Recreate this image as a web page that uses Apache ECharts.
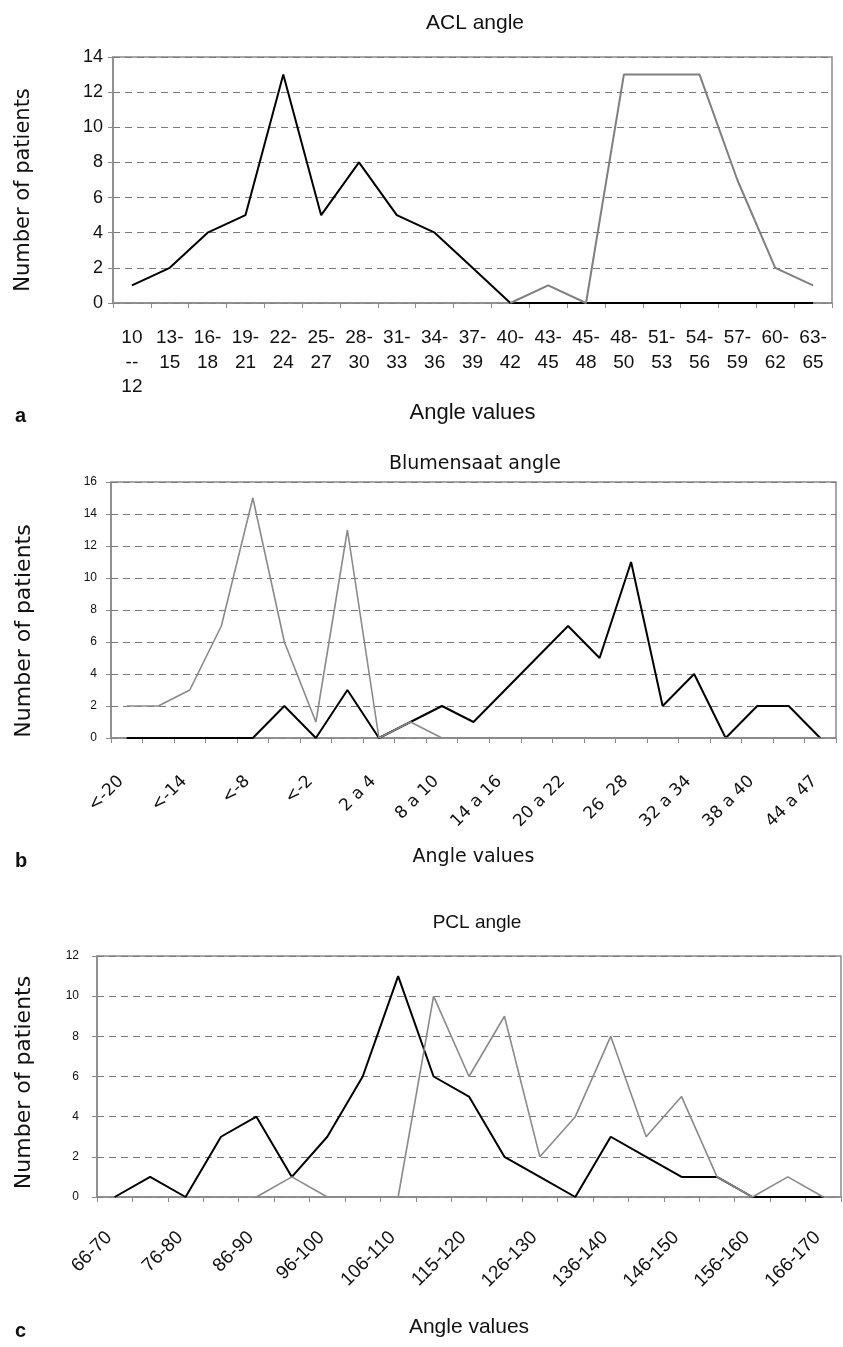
<!DOCTYPE html>
<html>
<head>
<meta charset="utf-8">
<script src="https://cdn.jsdelivr.net/npm/echarts@6/dist/echarts.min.js"></script>
<style>html,body{margin:0;padding:0;background:#fff}#chart{width:843px;height:1347px}</style>
</head>
<body>
<div id="chart"></div>
<script>
// ---- Panel a: ACL angle ----
const catsA = ["10--12","13-15","16-18","19-21","22-24","25-27","28-30","31-33","34-36","37-39","40-42","43-45","45-48","48-50","51-53","54-56","57-59","60-62","63-65"];
const blackA = [1,2,4,5,13,5,8,5,4,2,0,0,0,0,0,0,0,0,0];
const grayA  = [null,null,null,null,null,null,null,null,null,null,0,1,0,13,13,13,7,2,1];

// ---- Panel b: Blumensaat angle ----
const catsB = ["<-20","<-17","<-14","<-11","<-8","<-5","<-2","-1 a 1","2 a 4","5 a 7","8 a 10","11 a 13","14 a 16","17 a 19","20 a 22","23 a 25","26  28","29 a 31","32 a 34","35 a 37","38 a 40","41 a 43","44 a 47"];
const blackB = [0,0,0,0,0,2,0,3,0,1,2,1,3,5,7,5,11,2,4,0,2,2,0];
const grayB  = [2,2,3,7,15,6,1,13,0,1,0,0,0,0,0,0,0,0,0,0,0,0,0];

// ---- Panel c: PCL angle ----
const catsC = ["66-70","71-75","76-80","81-85","86-90","91-95","96-100","101-105","106-110","111-114","115-120","121-125","126-130","131-135","136-140","141-145","146-150","151-155","156-160","161-165","166-170"];
const blackC = [0,1,0,3,4,1,3,6,11,6,5,2,1,0,3,2,1,1,0,0,0];
const grayC  = [null,null,null,null,0,1,0,0,0,10,6,9,2,4,8,3,5,1,0,1,0];

const titles = ["ACL angle","Blumensaat angle","PCL angle"];
const letters = ["a","b","c"];
const yMax = [14,16,12];
const xName = "Angle values";
const yName = "Number of patients";

const ARIAL = "'Liberation Sans', Arial, sans-serif";
const NARROW = "'Liberation Sans Narrow', 'Arial Narrow', 'Liberation Sans', sans-serif";
const WIDE = "'DejaVu Sans', Verdana, sans-serif";
const AX = '#8a8a8a';
const TXT = '#111';

const chart = echarts.init(document.getElementById('chart'), null, {renderer:'canvas'});

const grids = [
  {left:113, top:57, width:719, height:246},
  {left:111, top:482, width:725, height:256},
  {left:97, top:956, width:744, height:241}
];

function xAxisOf(i, cats, labelOpt, gap, nameFont) {
  return {
    type:'category', gridIndex:i, data:cats, boundaryGap:true,
    axisLine:{show:true, lineStyle:{color:AX, width:1.5}},
    axisTick:{show:true, interval:0, length:5, lineStyle:{color:AX, width:1}},
    axisLabel:labelOpt,
    splitLine:{show:false},
    name:xName, nameLocation:'middle', nameGap:gap,
    nameTextStyle:nameFont
  };
}
function yAxisOf(i, max, labelOpt, gap, nameFont) {
  return {
    type:'value', gridIndex:i, min:0, max:max, interval:2,
    axisLine:{show:true, lineStyle:{color:AX, width:1.5}},
    axisTick:{show:true, length:5, lineStyle:{color:AX, width:1}},
    axisLabel:labelOpt,
    splitLine:{show:true, lineStyle:{color:'#7a7a7a', width:1, type:[7,5]}},
    name:yName, nameLocation:'middle', nameRotate:90, nameGap:gap,
    nameTextStyle:nameFont
  };
}
function lineSeries(i, data, color, width, z) {
  return {
    type:'line', xAxisIndex:i, yAxisIndex:i, data:data,
    symbol:'none', smooth:false, connectNulls:false,
    lineStyle:{color:color, width:width}, itemStyle:{color:color},
    z:z, animation:false
  };
}

const option = {
  animation:false,
  backgroundColor:'#fff',
  title:[
    {text:titles[0], left:470, top:8, textAlign:'center', textStyle:{fontFamily:ARIAL, fontSize:21, fontWeight:'normal', color:TXT}},
    {text:titles[1], left:470, top:450, textAlign:'center', textStyle:{fontFamily:WIDE, fontSize:19, fontWeight:'normal', color:TXT}},
    {text:titles[2], left:472, top:908, textAlign:'center', textStyle:{fontFamily:ARIAL, fontSize:19, fontWeight:'normal', color:TXT}},
    {text:letters[0], left:10, top:401, textStyle:{fontFamily:ARIAL, fontSize:20, fontWeight:'bold', color:TXT}},
    {text:letters[1], left:10, top:846, textStyle:{fontFamily:ARIAL, fontSize:20, fontWeight:'bold', color:TXT}},
    {text:letters[2], left:10, top:1316, textStyle:{fontFamily:ARIAL, fontSize:20, fontWeight:'bold', color:TXT}}
  ],
  grid: grids.map(g => Object.assign({show:true, borderColor:AX, borderWidth:1.5, backgroundColor:'transparent'}, g)),
  xAxis:[
    xAxisOf(0, catsA, {
      interval:0, margin:23, fontFamily:ARIAL, fontSize:19, lineHeight:24.5, color:TXT,
      formatter: v => v.indexOf('--') >= 0 ? v.replace('--','\n--\n') : v.replace('-','-\n')
    }, 99, {fontFamily:ARIAL, fontSize:22, color:TXT}),
    xAxisOf(1, catsB, {
      interval:1, rotate:45, margin:35, fontFamily:WIDE, fontSize:17, color:TXT, padding:[0,8,0,0]
    }, 110, {fontFamily:WIDE, fontSize:19, color:TXT}),
    xAxisOf(2, catsC, {
      interval:1, rotate:45, margin:32, fontFamily:ARIAL, fontSize:19, color:TXT, padding:[0,8,0,0]
    }, 120, {fontFamily:ARIAL, fontSize:21, color:TXT})
  ],
  yAxis:[
    yAxisOf(0, yMax[0], {margin:10, fontFamily:ARIAL, fontSize:18, color:TXT}, 79, {fontFamily:WIDE, fontSize:21, color:TXT, padding:[0,20,0,0]}),
    yAxisOf(1, yMax[1], {margin:14, fontFamily:NARROW, fontSize:12, color:TXT}, 76, {fontFamily:WIDE, fontSize:22, color:TXT, padding:[0,42,0,0]}),
    yAxisOf(2, yMax[2], {margin:18, fontFamily:NARROW, fontSize:12, color:TXT}, 62, {fontFamily:WIDE, fontSize:22, color:TXT, padding:[0,12,0,0]})
  ],
  series:[
    lineSeries(0, blackA, '#000', 2, 3),
    lineSeries(0, grayA, '#7f7f7f', 2, 4),
    lineSeries(1, blackB, '#000', 2, 3),
    lineSeries(1, grayB, '#8a8a8a', 1.6, 4),
    lineSeries(2, blackC, '#000', 2, 3),
    lineSeries(2, grayC, '#8a8a8a', 1.6, 4)
  ]
};
chart.setOption(option);
</script>
</body>
</html>
